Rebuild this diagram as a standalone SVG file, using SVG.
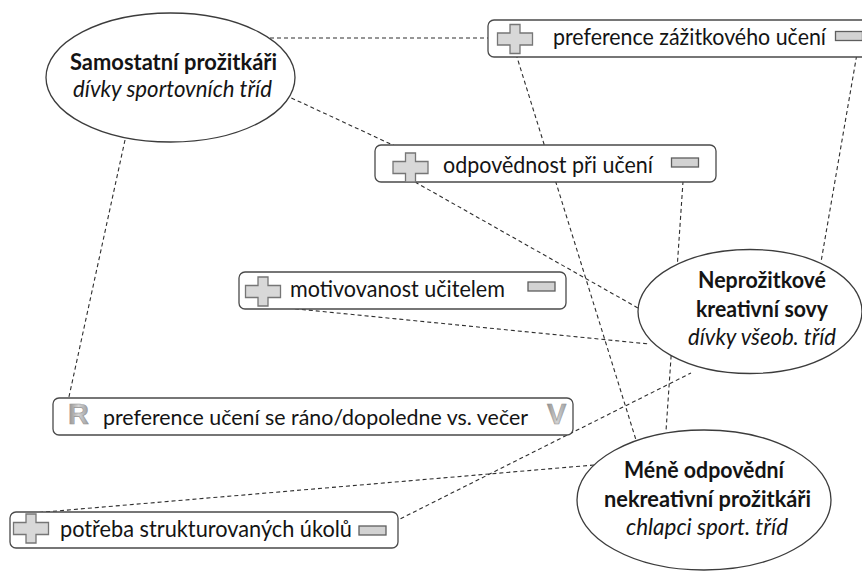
<svg xmlns="http://www.w3.org/2000/svg" width="862" height="571" viewBox="0 0 862 571">
<style>
.bg{fill:#ffffff}
.ell{fill:#ffffff;stroke:#3c3c3c;stroke-width:1.3}
.box{fill:#ffffff;stroke:#4a4a4a;stroke-width:1.3}
.con{fill:none;stroke:#2e2e2e;stroke-width:1.1;stroke-dasharray:4 3}
.t{font-family:"Lato","Liberation Sans",sans-serif;font-size:23.5px;fill:#141414}
.b{font-weight:bold}
.i{font-style:italic}
.ic{font-family:"Liberation Sans",Arial,sans-serif;font-weight:bold;font-size:29px;fill:url(#gr);stroke:#949494;stroke-width:0.6}
</style>
<defs>
<linearGradient id="gr" x1="0" y1="0" x2="1" y2="0">
<stop offset="0" stop-color="#8c8c8c"/>
<stop offset="0.5" stop-color="#d4d4d4"/>
<stop offset="1" stop-color="#9a9a9a"/>
</linearGradient>
<path id="plus" d="M-5,-14.5 H5 V-6 H17.5 V6 H5 V14.5 H-5 V6 H-17.5 V-6 H-5 Z" fill="#d8d8d8" stroke="#767676" stroke-width="1.3"/>
<rect id="minus" x="-13.5" y="-4.5" width="27" height="9" fill="#d2d2d2" stroke="#5e5e5e" stroke-width="1.3"/>
</defs>
<rect class="bg" x="0" y="0" width="862" height="571"/>

<g id="connectors">
<line class="con" x1="270" y1="38" x2="497" y2="38"/>
<line class="con" x1="285" y1="95" x2="410" y2="153"/>
<line class="con" x1="415" y1="182" x2="638" y2="308"/>
<line class="con" x1="516" y1="54" x2="636" y2="440"/>
<line class="con" x1="859" y1="42" x2="821" y2="262"/>
<line class="con" x1="684" y1="167" x2="666" y2="431"/>
<line class="con" x1="267" y1="306" x2="649" y2="344"/>
<line class="con" x1="125" y1="140" x2="65" y2="415"/>
<line class="con" x1="388" y1="525" x2="691" y2="373"/>
<line class="con" x1="594" y1="465" x2="33" y2="513"/>
</g>

<g id="samostatni">
<ellipse class="ell" cx="170.5" cy="77.5" rx="124.5" ry="64.5"/>
<text class="t b" x="70" y="70" textLength="207" lengthAdjust="spacingAndGlyphs">Samostatní prožitkáři</text>
<text class="t i" x="73" y="97" textLength="199" lengthAdjust="spacingAndGlyphs">dívky sportovních tříd</text>
</g>

<g id="neprozitkove">
<ellipse class="ell" cx="750" cy="311.5" rx="112" ry="62"/>
<text class="t b" x="698" y="288" textLength="128" lengthAdjust="spacingAndGlyphs">Neprožitkové</text>
<text class="t b" x="696" y="317" textLength="132" lengthAdjust="spacingAndGlyphs">kreativní sovy</text>
<text class="t i" x="688" y="345" textLength="148" lengthAdjust="spacingAndGlyphs">dívky všeob. tříd</text>
</g>

<g id="mene-odpovedni">
<ellipse class="ell" cx="704" cy="500" rx="127" ry="70"/>
<text class="t b" x="624" y="478" textLength="160" lengthAdjust="spacingAndGlyphs">Méně odpovědní</text>
<text class="t b" x="604" y="507" textLength="207" lengthAdjust="spacingAndGlyphs">nekreativní prožitkáři</text>
<text class="t i" x="626" y="535" textLength="162" lengthAdjust="spacingAndGlyphs">chlapci sport. tříd</text>
</g>

<g id="preference-zazitkoveho">
<rect class="box" x="488" y="20" width="390" height="37" rx="6"/>
<use href="#plus" x="515" y="39"/>
<text class="t" x="553" y="45" textLength="273" lengthAdjust="spacingAndGlyphs">preference zážitkového učení</text>
<use href="#minus" x="849" y="36"/>
</g>

<g id="odpovednost">
<rect class="box" x="375" y="145" width="341" height="37" rx="6"/>
<use href="#plus" x="410.5" y="167.5"/>
<text class="t" x="443" y="173" textLength="210" lengthAdjust="spacingAndGlyphs">odpovědnost při učení</text>
<use href="#minus" x="685" y="162.5"/>
</g>

<g id="motivovanost">
<rect class="box" x="239" y="272" width="327" height="37" rx="6"/>
<use href="#plus" x="263" y="291.5"/>
<text class="t" x="290" y="297" textLength="215" lengthAdjust="spacingAndGlyphs">motivovanost učitelem</text>
<use href="#minus" x="541.5" y="286.5"/>
</g>

<g id="preference-rano">
<rect class="box" x="53" y="398" width="520" height="37" rx="6"/>
<text class="ic" x="68" y="424">R</text>
<text class="t" x="103" y="425" style="font-size:22px" textLength="425" lengthAdjust="spacingAndGlyphs">preference učení se ráno/dopoledne vs. večer</text>
<text class="ic" x="547" y="424">V</text>
</g>

<g id="potreba">
<rect class="box" x="10" y="512" width="388" height="36" rx="6"/>
<use href="#plus" x="31" y="528.5"/>
<text class="t" x="60" y="537" textLength="292" lengthAdjust="spacingAndGlyphs">potřeba strukturovaných úkolů</text>
<use href="#minus" x="372.5" y="530.5"/>
</g>
</svg>
